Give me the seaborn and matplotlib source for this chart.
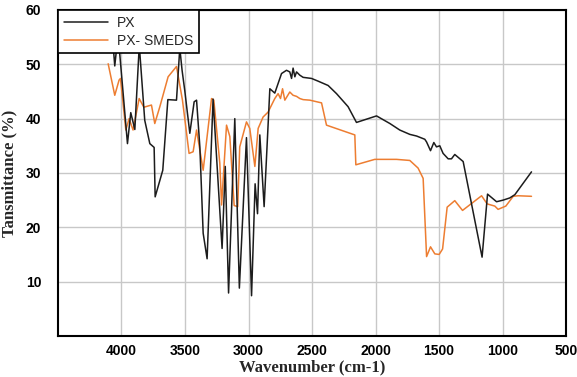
import numpy as np
import pandas as pd
import matplotlib
matplotlib.use("Agg")
import matplotlib.pyplot as plt
import seaborn as sns

# PX spectrum (wavenumber cm-1, transmittance %)
px_wave = [4076, 4053, 4027, 3953, 3927, 3895, 3860, 3817, 3777, 3743, 3735, 3675,
           3635, 3567, 3541, 3523, 3502, 3462, 3428, 3409, 3383, 3357, 3326, 3279,
           3208, 3183, 3157, 3108, 3072, 3016, 2976, 2948, 2929, 2911, 2877, 2832,
           2793, 2740, 2701, 2675, 2661, 2649, 2635, 2622, 2596, 2570, 2504, 2452,
           2373, 2307, 2216, 2150, 1992, 1887, 1809, 1730, 1677, 1612, 1598, 1567,
           1541, 1520, 1494, 1468, 1428, 1402, 1376, 1310, 1161, 1118, 1047, 995,
           943, 903, 772]
px_trans = [56.5, 49.7, 55.5, 35.4, 41.1, 38.0, 53.5, 39.7, 35.4, 34.7, 25.6, 30.5,
            43.5, 43.4, 53.0, 48.9, 45.2, 37.3, 43.1, 43.4, 34.8, 18.9, 14.2, 43.6,
            16.1, 31.2, 7.9, 40.0, 8.8, 36.5, 7.4, 28.0, 22.5, 37.0, 23.8, 45.5,
            44.7, 48.3, 48.9, 48.6, 47.4, 49.3, 47.7, 48.6, 48.0, 47.6, 47.4, 46.9,
            46.1, 44.6, 42.2, 39.3, 40.5, 39.1, 37.9, 37.1, 36.8, 36.2, 35.7, 34.1,
            35.6, 34.8, 35.0, 33.6, 32.6, 32.6, 33.4, 32.1, 14.5, 26.1, 24.7, 25.0,
            25.4, 26.0, 30.2]

# PX- SMEDS spectrum
sm_wave = [4105, 4053, 4019, 4008, 3966, 3940, 3909, 3861, 3824, 3764, 3738, 3698,
           3633, 3567, 3520, 3468, 3436, 3409, 3383, 3357, 3291, 3273, 3226, 3212,
           3173, 3147, 3113, 3085, 3069, 3016, 2990, 2950, 2924, 2885, 2846, 2793,
           2767, 2748, 2732, 2714, 2675, 2649, 2622, 2596, 2570, 2517, 2425, 2386,
           2163, 2155, 2006, 1835, 1730, 1665, 1625, 1598, 1567, 1533, 1499, 1472,
           1436, 1376, 1315, 1165, 1121, 1061, 1035, 974, 916, 877, 772]
sm_trans = [50.1, 44.3, 47.1, 47.4, 37.9, 40.0, 37.9, 43.7, 42.1, 42.5, 39.1, 42.2,
            47.7, 49.6, 43.4, 33.6, 33.9, 37.9, 34.2, 30.5, 43.7, 43.4, 31.8, 24.1,
            38.8, 36.7, 24.0, 23.8, 34.8, 39.4, 38.2, 31.2, 38.2, 40.3, 41.2, 43.7,
            44.6, 43.7, 45.5, 43.4, 44.9, 44.3, 44.1, 43.7, 43.5, 43.4, 42.9, 38.8,
            37.0, 31.5, 32.5, 32.5, 32.3, 30.9, 29.0, 14.6, 16.4, 15.1, 15.0, 16.0,
            23.7, 24.9, 23.1, 25.8, 24.3, 23.9, 23.3, 23.9, 25.7, 25.8, 25.7]

x_ticks = [4000, 3500, 3000, 2500, 2000, 1500, 1000, 500]
y_ticks = [10, 20, 30, 40, 50, 60]

sns.set_theme(style="whitegrid")
plt.rcParams['font.family'] = ['Liberation Sans', 'DejaVu Sans']

fig = plt.figure(figsize=(5.77, 3.77), dpi=100)
ax = fig.add_axes([0.1005, 0.109, 0.8805, 0.8645])

sns.lineplot(x=px_wave, y=px_trans, sort=False, estimator=None, color='#1c1c1c',
             linewidth=1.1, label='PX', ax=ax, zorder=3)
sns.lineplot(x=sm_wave, y=sm_trans, sort=False, estimator=None, color='#ed7d31',
             linewidth=1.1, label='PX- SMEDS', ax=ax, zorder=2)

ax.set_xlim(4500, 500)
ax.set_ylim(0, 60)
ax.set_xticks(x_ticks)
ax.set_yticks(y_ticks)
ax.grid(True, color='#c8c8c8', linewidth=1.0)
ax.set_facecolor('white')
for s in ax.spines.values():
    s.set_color('black')
    s.set_linewidth(1.5)
ax.tick_params(axis='both', length=0, labelsize=10, colors='black')
ax.tick_params(axis='y', pad=12)
ax.tick_params(axis='x', pad=6)
for lab in ax.get_xticklabels() + ax.get_yticklabels():
    lab.set_fontweight('bold')

ax.set_xlabel('Wavenumber (cm-1)', family='Liberation Serif', fontweight='bold',
              fontsize=12, labelpad=1)
ax.set_ylabel('Tansmittance (%)', family='Liberation Serif', fontweight='bold',
              fontsize=12, labelpad=6)

leg = ax.legend(loc='upper left', fontsize=10, frameon=True, fancybox=False,
                borderaxespad=0, handlelength=3.2, borderpad=0.4, labelspacing=0.3,
                handletextpad=0.65)
leg.get_frame().set_edgecolor('black')
leg.get_frame().set_linewidth(1.2)
leg.get_frame().set_alpha(1)

fig.savefig('out.png', dpi=100)
